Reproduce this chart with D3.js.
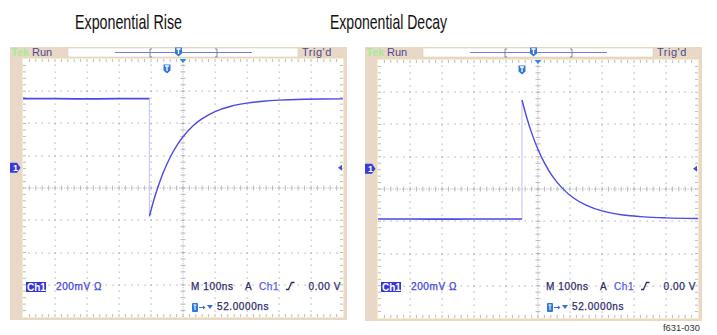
<!DOCTYPE html>
<html><head><meta charset="utf-8">
<script src="https://cdn.jsdelivr.net/npm/d3@7/dist/d3.min.js"></script>
<style>body{margin:0;background:#fff}svg{display:block}</style>
</head><body><svg id="c" width="717" height="335"></svg>
<script>
// ---------- data ----------
const titles = ["Exponential Rise", "Exponential Decay"];
const statusLabels = ["Run", "Trig'd"];
const scaleLabel = "200mV \u03A9";
const timebaseLabel = "M 100ns";
const trigSourceLabel = "Ch1";
const trigLevelLabel = "0.00 V";
const positionLabel = "52.0000ns";
const figureId = "f631-030";

// time in ns across 10 divisions (100 ns/div); volts relative to screen centre (200 mV/div)
const riseTime  = [0, 100, 200, 300, 395, 395, 410, 425, 440, 460, 480, 500, 530, 560, 600, 650, 700, 750, 800, 880, 1000];
const riseVolts = [0.554, 0.554, 0.553, 0.554, 0.554, -0.176, -0.067, 0.025, 0.104, 0.191, 0.261, 0.318, 0.383, 0.430, 0.474, 0.507, 0.526, 0.538, 0.545, 0.550, 0.553];
const decayTime  = [0, 100, 200, 300, 400, 450, 450, 465, 480, 500, 520, 545, 575, 610, 650, 700, 760, 830, 900, 1000];
const decayVolts = [-0.186, -0.186, -0.187, -0.186, -0.186, -0.186, 0.552, 0.442, 0.348, 0.245, 0.162, 0.080, 0.007, -0.054, -0.100, -0.136, -0.160, -0.173, -0.179, -0.183];
const groundLevel = 0.125;   // ch1 ground / trigger level marker (V from centre)
const triggerTime = 450;     // T marker position (ns)

// ---------- drawing ----------
const svg = d3.select("#c");
svg.append("rect").attr("width", 717).attr("height", 335).attr("fill", "#fff");

const GW = 320, GH = 258;
const BEIGE = "#e9d8c7";
const GRID = "#a8a8b8";
const TRACE = "#4a4ae6";
const FONT = "'Liberation Sans', Arial, sans-serif";

const panels = [
  {title: titles[0], titleX: 75, titleW: 107, fx: 10, gx: 23, gy: 59, t: riseTime, v: riseVolts},
  {title: titles[1], titleX: 330, titleW: 117, fx: 365, gx: 378, gy: 60, t: decayTime, v: decayVolts}
];

function tIcon(g, cx, cy) {
  const s = g.append("g").attr("transform", `translate(${cx},${cy})`);
  s.append("path").attr("d", "M-3.5,-4.5 h7 v6 l-3.5,3 l-3.5,-3 z").attr("fill", "#2f7ad8");
  s.append("path").attr("d", "M-2,-3 h4 M0,-3 v5").attr("stroke", "#fff").attr("stroke-width", 1.3).attr("fill", "none");
}

panels.forEach((p, pi) => {
  const g = svg.append("g");
  const x = d3.scaleLinear().domain([0, 1000]).range([p.gx, p.gx + GW]);
  const y = d3.scaleLinear().domain([-0.8, 0.8]).range([p.gy + GH, p.gy]);
  const fx = p.fx;

  // title
  g.append("text").attr("x", p.titleX).attr("y", 28.5)
    .attr("font-family", "'Liberation Sans Narrow','Arial Narrow','Liberation Sans',Arial,sans-serif")
    .attr("font-size", 21).attr("fill", "#111")
    .attr("textLength", p.titleW).attr("lengthAdjust", "spacingAndGlyphs").text(p.title);

  // beige frame
  g.append("rect").attr("x", fx).attr("y", 47).attr("width", p.gx + GW + 4 - fx).attr("height", p.gy + GH + 3 - 47).attr("fill", BEIGE);
  // header white box
  g.append("rect").attr("x", fx + 58).attr("y", 48).attr("width", 230).attr("height", 9)
    .attr("fill", "#fff").attr("stroke", "#d9cfc4").attr("stroke-width", 0.6);
  // graticule
  g.append("rect").attr("x", p.gx - 1).attr("y", p.gy - 1).attr("width", GW + 2).attr("height", GH + 2).attr("fill", "#f4eec4");
  g.append("rect").attr("x", p.gx).attr("y", p.gy).attr("width", GW).attr("height", GH).attr("fill", "#fff");

  // status text
  g.append("text").attr("x", fx + 1).attr("y", 56).attr("font-family", FONT).attr("font-size", 11).attr("font-weight", "bold").attr("fill", "#a6ec96").text("Tek");
  g.append("text").attr("x", fx + 22).attr("y", 56).attr("font-family", FONT).attr("font-size", 11).attr("fill", "#4b4b88").text(statusLabels[0]);
  g.append("text").attr("x", fx + 292).attr("y", 56).attr("font-family", FONT).attr("font-size", 11).attr("letter-spacing", 0.5).attr("fill", "#4b4b88").text(statusLabels[1]);

  // record bar in header
  g.append("line").attr("x1", fx + 105).attr("x2", fx + 242).attr("y1", 52.5).attr("y2", 52.5).attr("stroke", "#7a7ae2").attr("stroke-width", 1);
  g.append("path").attr("d", `M${fx + 142},49 h-2 v8 h2 M${fx + 205},49 h2 v8 h-2`).attr("stroke", "#6a6a80").attr("stroke-width", 0.8).attr("fill", "none");
  tIcon(g, fx + 168.5, 52);

  // grid dots
  const subX = GW / 50, subY = GH / 40;
  const vLines = x.ticks(10).filter(d => d > 0 && d < 1000 && d !== 500);
  const hLines = y.ticks(8).filter(d => d > -0.8 && d < 0.8 && Math.abs(d) > 1e-9);
  const dots = [];
  vLines.forEach(t => { for (let j = 1; j < 40; j++) dots.push([x(t), p.gy + j * subY]); });
  hLines.forEach(v => { for (let i = 1; i < 50; i++) dots.push([p.gx + i * subX, y(v)]); });
  g.append("g").selectAll("rect").data(dots).join("rect")
    .attr("x", d => Math.round(d[0]) - 0.5).attr("y", d => Math.round(d[1]) - 0.5)
    .attr("width", 1.2).attr("height", 1.2).attr("fill", GRID);

  // centre lines with ticks
  const cx = x(500), cy = y(0);
  g.append("line").attr("x1", p.gx).attr("x2", p.gx + GW).attr("y1", cy).attr("y2", cy).attr("stroke", GRID).attr("stroke-width", 0.8).attr("stroke-dasharray", "1.2,1.2");
  g.append("line").attr("x1", cx).attr("x2", cx).attr("y1", p.gy).attr("y2", p.gy + GH).attr("stroke", GRID).attr("stroke-width", 0.8).attr("stroke-dasharray", "1.2,1.2");
  let tk = "";
  for (let i = 1; i < 50; i++) { const xx = p.gx + i * subX; tk += `M${xx},${cy - 2.5}v5M${xx},${p.gy}v3M${xx},${p.gy + GH}v-3`; }
  for (let j = 1; j < 40; j++) { const yy = p.gy + j * subY; tk += `M${cx - 2.5},${yy}h5M${p.gx},${yy}h3M${p.gx + GW},${yy}h-3`; }
  g.append("path").attr("d", tk).attr("stroke", GRID).attr("stroke-width", 0.8).attr("fill", "none");

  // trace
  const pts = p.t.map((t, i) => ({t, v: p.v[i]}));
  let k = 1; while (k < pts.length && pts[k].t !== pts[k - 1].t) k++;
  const before = pts.slice(0, k), after = pts.slice(k);
  const line = d3.line().x(d => x(d.t)).y(d => y(d.v)).curve(d3.curveCatmullRom.alpha(0.5));
  g.append("line").attr("x1", x(pts[k].t)).attr("x2", x(pts[k].t)).attr("y1", y(pts[k - 1].v)).attr("y2", y(pts[k].v))
    .attr("stroke", "#c9c9f5").attr("stroke-width", 1.2);
  g.append("path").attr("d", line(before)).attr("fill", "none").attr("stroke", TRACE).attr("stroke-width", 1.7);
  g.append("path").attr("d", line(after)).attr("fill", "none").attr("stroke", TRACE).attr("stroke-width", 1.4);

  // markers
  tIcon(g, x(triggerTime), p.gy + 10);
  g.append("path").attr("d", `M${cx - 3.5},${p.gy} h7 l-3.5,4 z`).attr("fill", "#2f8ae4");
  const gl = y(groundLevel);
  g.append("path").attr("d", `M${fx},${gl - 5} h7 l3.5,5 l-3.5,5 h-7 z`).attr("fill", "#3b3bd8");
  g.append("text").attr("x", fx + 3).attr("y", gl + 3.5).attr("font-family", FONT).attr("font-size", 9).attr("font-weight", "bold").attr("fill", "#fff").text("1");
  g.append("path").attr("d", `M${p.gx + GW - 5},${gl} l4,-3 v6 z`).attr("fill", "#4a4ae0");

  // bottom readouts
  const row1 = 289.5, row2 = 310;
  g.append("rect").attr("x", fx + 16).attr("y", 282).attr("width", 20).attr("height", 10).attr("fill", "#3636d8");
  g.append("text").attr("x", fx + 17).attr("y", 290.5).attr("font-family", FONT).attr("font-size", 10).attr("font-weight", "bold").attr("fill", "#fff").text(trigSourceLabel);
  const txt = (xx, yy, s, col, anchor) => g.append("text").attr("x", xx).attr("y", yy)
    .attr("font-family", FONT).attr("font-size", 10).attr("letter-spacing", 0.6)
    .attr("stroke", col).attr("stroke-width", 0.25)
    .attr("text-anchor", anchor || "start").attr("fill", col).text(s);
  txt(fx + 46, row1, scaleLabel, "#4444e0");
  txt(fx + 181, row1, timebaseLabel, "#2c2c6c");
  txt(fx + 235, row1, "A", "#2c2c6c");
  txt(fx + 249, row1, trigSourceLabel, "#5a5ae6");
  g.append("path").attr("d", `M${fx + 276},${row1} h2.5 l3,-7 h3`).attr("stroke", "#2c2c6c").attr("stroke-width", 1.3).attr("fill", "none");
  txt(fx + 331, row1, trigLevelLabel, "#2c2c6c", "end");
  // row 2
  g.append("rect").attr("x", fx + 182).attr("y", 303).attr("width", 6).attr("height", 9).attr("rx", 1).attr("fill", "#2f7ad8");
  g.append("path").attr("d", `M${fx + 183.5},305 h3 M${fx + 185},305 v5`).attr("stroke", "#fff").attr("stroke-width", 1).attr("fill", "none");
  g.append("path").attr("d", `M${fx + 189},307.5 h5`).attr("stroke", "#3b6fd8").attr("stroke-width", 1);
  g.append("path").attr("d", `M${fx + 193},305.5 l2.5,2 l-2.5,2 z M${fx + 197},305 h6 l-3,4 z`).attr("fill", "#3b6fd8");
  txt(fx + 207, row2, positionLabel, "#2c2c6c");
});

svg.append("text").attr("x", 700).attr("y", 331).attr("text-anchor", "end")
  .attr("font-family", "'Liberation Sans Narrow','Liberation Sans',Arial,sans-serif").attr("font-size", 8.5)
  .attr("textLength", 37).attr("lengthAdjust", "spacingAndGlyphs").attr("fill", "#333").text(figureId);
</script></body></html>
